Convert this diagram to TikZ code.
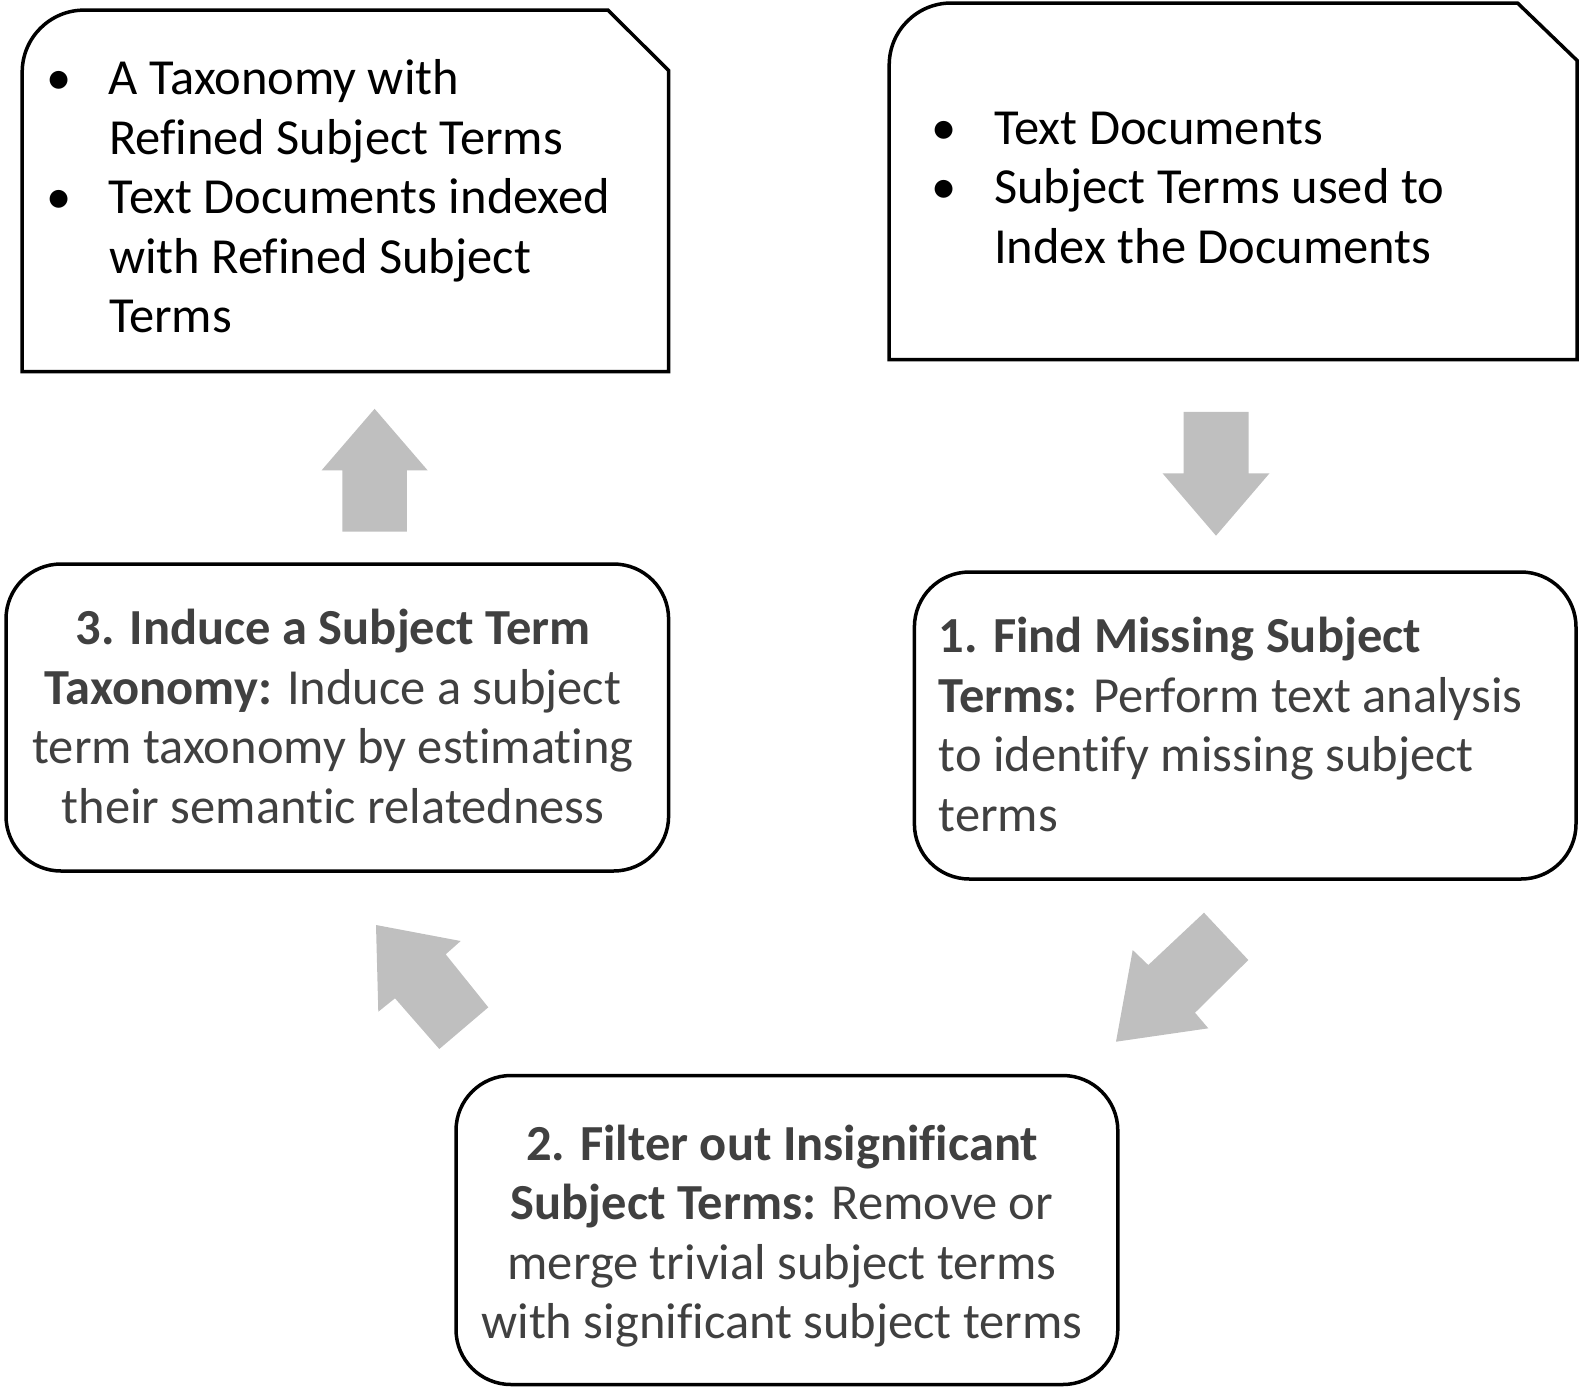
\documentclass[tikz,border=0pt]{standalone}
\usepackage{fontspec}
\setmainfont{Carlito}[Ligatures=NoCommon]
\definecolor{arrowgray}{RGB}{191,191,191}
\definecolor{textgray}{RGB}{64,64,64}
\begin{document}
\begin{tikzpicture}[x=1pt,y=-1pt,
  outline/.style={draw=black, line width=3.5pt, line join=miter},
  procbox/.style={draw=black, line width=3.5pt, rounded corners=55pt, inner sep=0pt},
  blockarrow/.style={fill=arrowgray, draw=none},
  bultext/.style={inner sep=0pt, anchor=north west, align=left, text=black,
    font=\fontsize{50.5}{59.5}\selectfont},
  proctextc/.style={inner sep=0pt, anchor=north, align=center, text=textgray,
    font=\fontsize{50.5}{59.5}\selectfont},
  proctextl/.style={inner sep=0pt, anchor=north west, align=left, text=textgray,
    font=\fontsize{50.5}{59.5}\selectfont}
]
\useasboundingbox (0,0) rectangle (1579,1387);

% top-left output box
\draw[outline] (22.2,371.6) -- (22.2,72.1)
  .. controls (22.2,37.9) and (49.9,10.1) .. (84.2,10.1)
  -- (608,10.1) -- (668.6,70.5) -- (668.6,371.6) -- cycle;
% top-right input box
\draw[outline] (889.2,359.5) -- (889.2,65)
  .. controls (889.2,30.8) and (916.9,3) .. (951.2,3)
  -- (1517.5,3) -- (1577,60.4) -- (1577,359.5) -- cycle;

\node[bultext] (outtext) at (59,52.7) {\rule{0pt}{42pt}\makebox[0pt]{•}\hspace{49.8pt}A Taxonomy with\\
  \hspace*{49.8pt}Refined Subject Terms\\
  \makebox[0pt]{•}\hspace{49.8pt}Text Documents indexed\\
  \hspace*{49.8pt}with Refined Subject\\
  \hspace*{49.8pt}Terms};

\node[bultext] (intext) at (944,102) {\rule{0pt}{42pt}\makebox[0pt]{•}\hspace{50pt}Text Documents\\
  \makebox[0pt]{•}\hspace{50pt}Subject Terms used to\\
  \hspace*{50pt}Index the Documents};

% process boxes
\node[procbox, minimum width=662.6pt, minimum height=307pt] (box3) at (337.3,717.5) {};
\node[procbox, minimum width=661.6pt, minimum height=307pt] (box1) at (1245.2,725.5) {};
\node[procbox, minimum width=661.8pt, minimum height=309pt] (box2) at (786.9,1230) {};

\node[proctextc] (t3) at (333,602.5) {\rule{0pt}{42pt}\textbf{3. Induce a Subject Term}\\
  \textbf{Taxonomy:} Induce a subject\\
  term taxonomy by estimating\\
  their semantic relatedness};
\node[proctextl] (t1) at (938.5,610.5) {\rule{0pt}{42pt}\textbf{1. Find Missing Subject}\\
  \textbf{Terms:} Perform text analysis\\
  to identify missing subject\\
  terms};
\node[proctextc] (t2) at (782,1118) {\rule{0pt}{42pt}\textbf{2. Filter out Insignificant}\\
  \textbf{Subject Terms:} Remove or\\
  merge trivial subject terms\\
  with significant subject terms};

% block arrows
\fill[blockarrow] (1216,411.9) ++(-32.5,0) -- ++(65,0) -- (1248.5,473.3) -- (1269.5,473.3)
  -- (1216,535.7) -- (1162.5,473.3) -- (1183.5,473.3) -- cycle;
\fill[blockarrow] (1116,1041.7) -- (1208.3,1028.3) -- (1195,1012.7) -- (1248.3,960)
  -- (1204,912.7) -- (1148.3,965) -- (1132.7,950) -- cycle;
\fill[blockarrow] (376,925) -- (460.7,941) -- (445.7,954.3) -- (488.3,1007.3)
  -- (439.3,1049) -- (395,998.3) -- (378.3,1011.7) -- cycle;
\fill[blockarrow] (374.6,408.8) -- (427.6,470.3) -- (406.8,470.3) -- (406.8,531.7)
  -- (342.4,531.7) -- (342.4,470.3) -- (321.6,470.3) -- cycle;
\end{tikzpicture}
\end{document}
